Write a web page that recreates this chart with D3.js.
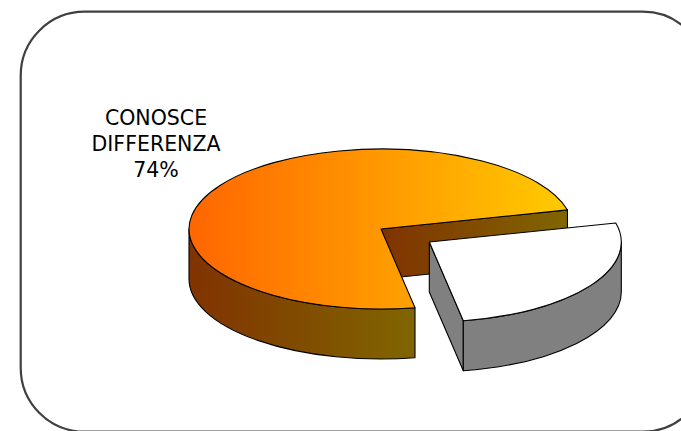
<!DOCTYPE html>
<html>
<head>
<meta charset="utf-8">
<script src="https://cdn.jsdelivr.net/npm/d3@7"></script>
<style>
  html, body { margin: 0; padding: 0; background: #ffffff; }
  svg { display: block; }
</style>
</head>
<body>
<script>
// ---- data ----
const categories = ["CONOSCE DIFFERENZA", "NON CONOSCE DIFFERENZA"];
const values = [74, 26];
const labelVisible = [true, false];
const exploded = [0, 0.3];
const topColors = [["#FF6600", "#FFCC00"], ["#FFFFFF", "#FFFFFF"]];
const sideColors = [["#803300", "#806600"], ["#808080", "#808080"]];

// ---- layout ----
const W = 681, H = 431;
const cx = 381, cy = 229, rx = 192, ry = 80, depth = 50;
const startDeg = 169.8;

const svg = d3.select("body").append("svg")
  .attr("width", W).attr("height", H);
const defs = svg.append("defs");

// frame
svg.append("rect")
  .attr("x", 20.7).attr("y", 11.7)
  .attr("width", 686).attr("height", 420)
  .attr("rx", 64).attr("ry", 64)
  .attr("fill", "none")
  .attr("stroke", "#404040")
  .attr("stroke-width", 2.2);

const pie = d3.pie().sort(null).value(d => d)
  .startAngle(startDeg * Math.PI / 180)
  .endAngle(startDeg * Math.PI / 180 + 2 * Math.PI);
const arcs = pie(values);

function pt(a, ox, oy, dz) {
  return [ox + rx * Math.sin(a), oy - ry * Math.cos(a) + (dz || 0)];
}

function gradient(id, c0, c1, units) {
  const g = defs.append("linearGradient").attr("id", id)
    .attr("x1", 0).attr("x2", 1).attr("y1", 0).attr("y2", 0);
  if (units) {
    g.attr("gradientUnits", "userSpaceOnUse")
      .attr("x1", units[0]).attr("x2", units[1]);
  }
  g.append("stop").attr("offset", "0%").attr("stop-color", c0);
  g.append("stop").attr("offset", "100%").attr("stop-color", c1);
  return "url(#" + id + ")";
}

const stroke = "#000";
const sw = 1.1;

arcs.forEach((d, i) => {
  const a0 = d.startAngle, a1 = d.endAngle;
  const mid = (a0 + a1) / 2;
  const e = exploded[i];
  const ox = cx + e * rx * Math.sin(mid);
  const oy = cy - e * ry * Math.cos(mid);
  const g = svg.append("g");

  const topFill = gradient("top" + i, topColors[i][0], topColors[i][1], [cx - rx, cx + rx]);
  const sideFill = gradient("side" + i, sideColors[i][0], sideColors[i][1]);

  // cut faces (visible if facing viewer)
  [[a0, -1], [a1, 1]].forEach(([a, s]) => {
    const ny = s * Math.sin(a);
    if (ny > 0) {
      const p = pt(a, ox, oy, 0), q = pt(a, ox, oy, depth);
      const path = `M${ox},${oy} L${p[0]},${p[1]} L${q[0]},${q[1]} L${ox},${oy + depth} Z`;
      g.append("path").attr("d", path)
        .attr("fill", sideFill).attr("stroke", stroke)
        .attr("stroke-width", sw).attr("stroke-linejoin", "round");
    }
  });

  // outer wall (front half: angles in [PI/2, 3PI/2] mod 2PI)
  const ranges = [];
  for (let k = -1; k <= 2; k++) {
    const lo = Math.PI / 2 + k * 2 * Math.PI, hi = 3 * Math.PI / 2 + k * 2 * Math.PI;
    const b0 = Math.max(a0, lo), b1 = Math.min(a1, hi);
    if (b1 > b0) ranges.push([b0, b1]);
  }
  ranges.forEach(([b0, b1]) => {
    const p0 = pt(b0, ox, oy, 0), p1 = pt(b1, ox, oy, 0);
    const q1 = pt(b1, ox, oy, depth), q0 = pt(b0, ox, oy, depth);
    const large = (b1 - b0) > Math.PI ? 1 : 0;
    const path = `M${p0[0]},${p0[1]} A${rx},${ry} 0 ${large} 1 ${p1[0]},${p1[1]} ` +
      `L${q1[0]},${q1[1]} A${rx},${ry} 0 ${large} 0 ${q0[0]},${q0[1]} Z`;
    g.append("path").attr("d", path)
      .attr("fill", sideFill).attr("stroke", stroke)
      .attr("stroke-width", sw).attr("stroke-linejoin", "round");
  });

  // top face
  const p0 = pt(a0, ox, oy, 0), p1 = pt(a1, ox, oy, 0);
  const large = (a1 - a0) > Math.PI ? 1 : 0;
  const topPath = `M${ox},${oy} L${p0[0]},${p0[1]} A${rx},${ry} 0 ${large} 1 ${p1[0]},${p1[1]} Z`;
  g.append("path").attr("d", topPath)
    .attr("fill", topFill).attr("stroke", stroke)
    .attr("stroke-width", sw).attr("stroke-linejoin", "round");
});

// labels
const total = d3.sum(values);
categories.forEach((c, i) => {
  if (!labelVisible[i]) return;
  const lines = c.split(" ").concat([Math.round(values[i] / total * 100) + "%"]);
  const t = svg.append("text")
    .attr("x", 156).attr("y", 125)
    .attr("text-anchor", "middle")
    .attr("font-family", "'DejaVu Sans', Verdana, sans-serif")
    .attr("font-size", 20.5)
    .attr("fill", "#000");
  lines.forEach((ln, j) => {
    t.append("tspan").attr("x", 156).attr("dy", j === 0 ? 0 : 26).text(ln);
  });
});
</script>
</body>
</html>
